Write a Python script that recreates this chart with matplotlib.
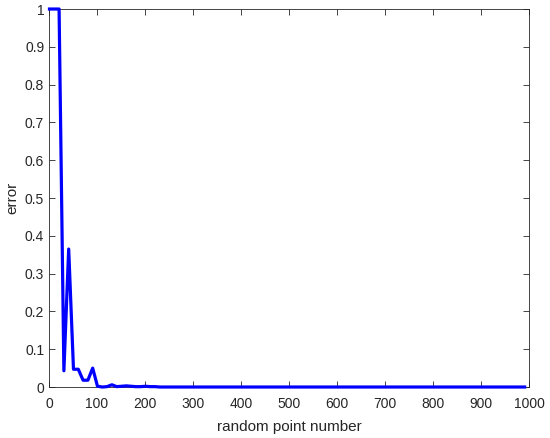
import matplotlib
matplotlib.use("Agg")
import matplotlib.pyplot as plt
import numpy as np

plt.rcParams['font.family'] = ['Liberation Sans', 'DejaVu Sans']

x_values = list(range(1, 1000, 10))
head = [1.0, 1.0, 1.0, 0.043, 0.365, 0.047, 0.047, 0.018, 0.018, 0.050,
        0.002, 0.0, 0.001, 0.006, 0.001, 0.002, 0.003, 0.002, 0.001, 0.001,
        0.002, 0.001, 0.001]
error_values = head + [0.0] * (len(x_values) - len(head))

xticks = list(range(0, 1001, 100))
yticks = [0, 0.1, 0.2, 0.3, 0.4, 0.5, 0.6, 0.7, 0.8, 0.9, 1]
ytick_labels = ['0', '0.1', '0.2', '0.3', '0.4', '0.5', '0.6', '0.7', '0.8', '0.9', '1']

fig = plt.figure(figsize=(5.5, 4.38), dpi=100)
ax = fig.add_axes([0.0891, 0.1164, 0.8727, 0.863])
ax.plot(x_values, error_values, color=(0, 0, 1), linewidth=2.3, clip_on=False, zorder=3)
ax.set_xlim(0, 1000)
ax.set_ylim(0, 1)
ax.set_xticks(xticks)
ax.set_yticks(yticks)
ax.set_yticklabels(ytick_labels)
ax.tick_params(direction='in', top=True, right=True, labelsize=10, colors='#262626',
               length=4, width=0.6)
ax.tick_params(axis='x', pad=7)
for s in ax.spines.values():
    s.set_color('#262626')
    s.set_linewidth(0.6)
ax.set_xlabel('random point number', fontsize=11, color='#262626', labelpad=7)
ax.set_ylabel('error', fontsize=11, color='#262626', labelpad=4)
fig.savefig('out.png', dpi=100)
